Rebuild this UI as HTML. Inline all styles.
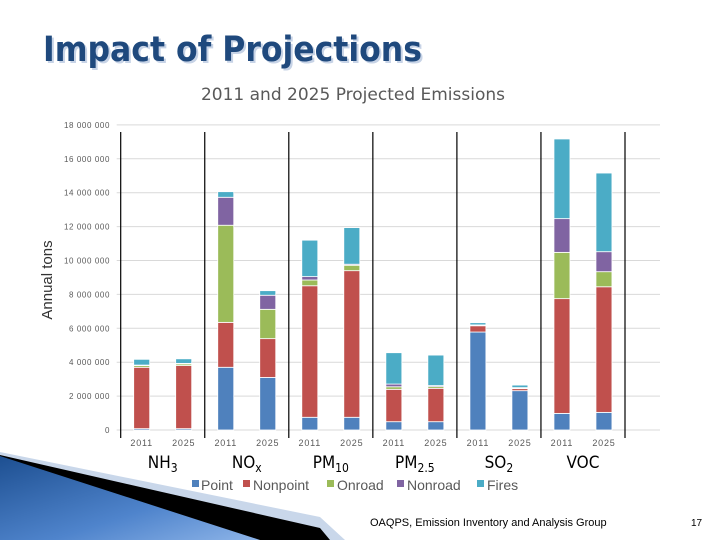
<!DOCTYPE html>
<html><head><meta charset="utf-8"><style>
body{margin:0;width:720px;height:540px;background:#fff;overflow:hidden;font-family:"Liberation Sans",sans-serif;}
svg{position:absolute;left:0;top:0}
</style></head><body>
<svg width="720" height="540">
<defs>
<linearGradient id="bg" x1="0" y1="0" x2="1" y2="1">
<stop offset="0" stop-color="#1d4f91"/><stop offset="0.6" stop-color="#4f84cc"/><stop offset="1" stop-color="#8db4e8"/></linearGradient>
</defs>
<g>
<polygon points="0,452 320,517 345,540 0,540" fill="#c9d7ea"/>
<polygon points="0,455 320,528 330,540 0,540" fill="#000"/>
<polygon points="0,456 260,540 0,540" fill="url(#bg)"/>
</g>
<text x="43" y="61" font-size="35" font-weight="bold" fill="#c7d3e6" transform="translate(2,2)" font-family="DejaVu Sans Condensed, Liberation Sans, sans-serif">Impact of Projections</text>
<text x="43" y="61" font-size="35" font-weight="bold" fill="#1f497d" font-family="DejaVu Sans Condensed, Liberation Sans, sans-serif">Impact of Projections</text>
<text x="353" y="100" font-size="17" fill="#595959" text-anchor="middle" font-family="DejaVu Sans, sans-serif">2011 and 2025 Projected Emissions</text>
<text transform="translate(52,280) rotate(-90)" font-size="15" fill="#333" text-anchor="middle">Annual tons</text>
<g id="chart"></g>
<g font-size="14" fill="#595959">
<rect x="192" y="480" width="7" height="7" fill="#4f81bd"/><text x="201" y="490">Point</text>
<rect x="243" y="480" width="7" height="7" fill="#c0504d"/><text x="253" y="490">Nonpoint</text>
<rect x="327" y="480" width="7" height="7" fill="#9bbb59"/><text x="337" y="490">Onroad</text>
<rect x="397" y="480" width="7" height="7" fill="#8064a2"/><text x="407" y="490">Nonroad</text>
<rect x="477" y="480" width="7" height="7" fill="#4bacc6"/><text x="487" y="490">Fires</text>
</g>
<text x="370" y="526" font-size="11" fill="#000">OAQPS, Emission Inventory and Analysis Group</text>
<text x="691" y="526" font-size="10" fill="#000">17</text>
</svg>
<script>
const categories=["NH3","NOx","PM10","PM2.5","SO2","VOC"];
const years=["2011","2025"];
const seriesNames=["Point","Nonpoint","Onroad","Nonroad","Fires"];
const colors=["#4f81bd","#c0504d","#9bbb59","#8064a2","#4bacc6"];
// values in millions of tons, order: [cat][year] -> per-series
const point=[[0.08,0.08],[3.7,3.1],[0.75,0.75],[0.49,0.49],[5.78,2.32],[0.98,1.04]];
const nonpoint=[[3.62,3.72],[2.65,2.29],[7.76,8.65],[1.91,1.97],[0.37,0.12],[6.77,7.41]];
const onroad=[[0.1,0.1],[5.73,1.73],[0.34,0.32],[0.15,0.1],[0.02,0.02],[2.73,0.89]];
const nonroad=[[0.03,0.03],[1.65,0.83],[0.2,0.06],[0.16,0.06],[0.03,0.04],[1.99,1.18]];
const fires=[[0.34,0.27],[0.33,0.27],[2.15,2.16],[1.85,1.8],[0.13,0.15],[4.7,4.64]];
const yTicks=["0","2 000 000","4 000 000","6 000 000","8 000 000","10 000 000","12 000 000","14 000 000","16 000 000","18 000 000"];
const subs=[["NH","3"],["NO","x"],["PM","10"],["PM","2.5"],["SO","2"],["VOC",""]];
const NS="http://www.w3.org/2000/svg";
const g=document.getElementById('chart');
const x0=120.7,gw=84.05,yb=430,pxPerM=16.95;
const y=v=>yb-v*pxPerM;
function el(t,a){const e=document.createElementNS(NS,t);for(const k in a)e.setAttribute(k,a[k]);g.appendChild(e);return e;}
yTicks.forEach((t,i)=>{
 const yy=y(i*2);
 const l=el('line',{x1:x0-4,x2:660,y1:yy,y2:yy,stroke:'#d9d9d9','stroke-width':1});
 
 
 const tx=el('text',{x:110,y:yy+3,'font-size':8,fill:'#595959','text-anchor':'end','letter-spacing':'0.6'});
 tx.textContent=t;
 
 
});
for(let i=0;i<=categories.length;i++){
 const xx=x0+i*gw;
 const l=el('line',{x1:xx,x2:xx,y1:132,y2:438,stroke:'#000','stroke-width':1.2});
 
 
}
const series=[point,nonpoint,onroad,nonroad,fires];
categories.forEach((c,ci)=>{
 years.forEach((yr,yi)=>{
  const cx=x0+ci*gw+21+yi*42;
  let acc=0;
  series.forEach((s,si)=>{
   const v=s[ci][yi];
   const r=el('rect',{x:cx-8,y:y(acc+v),width:16,height:Math.max(v*pxPerM,0),fill:colors[si],stroke:'#fff','stroke-width':0.8});
   
   
   acc+=v;
  });
  const t=el('text',{x:cx,y:446,'font-size':9,fill:'#595959','text-anchor':'middle','letter-spacing':'0.8'});
  t.textContent=yr;
  
  
 });
 const t=el('text',{x:x0+ci*gw+42,y:468,'font-size':17,fill:'#000','text-anchor':'middle','font-family':'DejaVu Sans Condensed, Liberation Sans Narrow, sans-serif'});
 t.textContent=subs[ci][0];
 if(subs[ci][1]){const ts=document.createElementNS(NS,'tspan');ts.setAttribute('font-size','12');ts.setAttribute('dy','4');ts.textContent=subs[ci][1];t.appendChild(ts);}
 
 
});
</script>
</body></html>
